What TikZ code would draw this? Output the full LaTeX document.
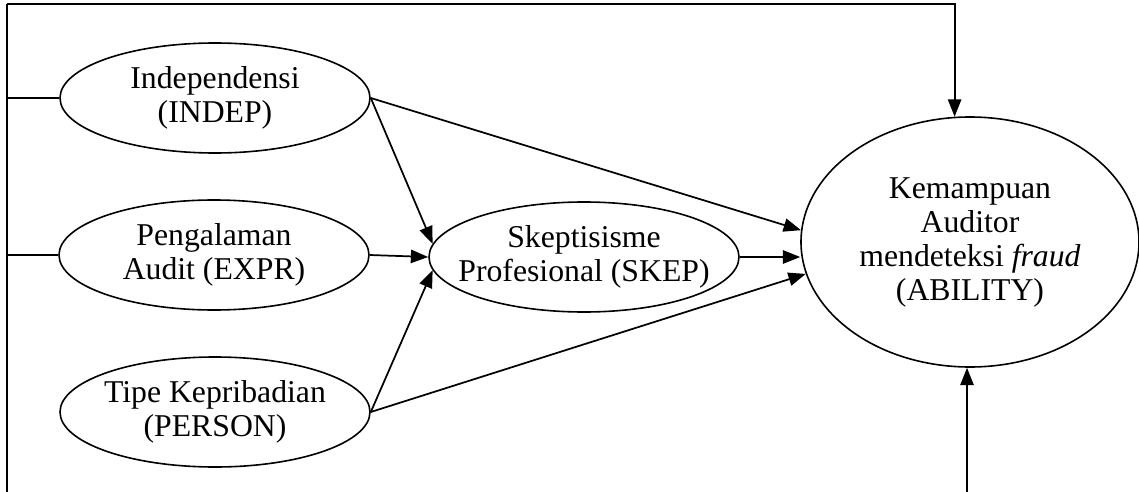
\documentclass[tikz,border=0pt]{standalone}
\usepackage{fontspec}
\setmainfont{Liberation Serif}
\usetikzlibrary{shapes.geometric,arrows.meta}
\tikzset{
  varbox/.style={draw, ellipse, line width=1.2pt, inner sep=-12pt, align=center,
    minimum width=232.5pt, minimum height=82.5pt,
    font=\fontsize{23.8pt}{25.5pt}\selectfont},
  link/.style={line width=1.3pt, -{Triangle[length=13pt,width=10pt]}},
  frame/.style={line width=1.3pt}
}
\begin{document}
\begin{tikzpicture}[x=0.75pt,y=0.75pt,yscale=-1,xscale=1]
    \useasboundingbox (0,0) rectangle (1139,492);

    %Shape: Ellipse [indep]
    \node [varbox] (indep) at (215,98) {Independensi\\(INDEP)};
    %Shape: Ellipse [expr]
    \node [varbox] (expr) at (214,255) {Pengalaman\\Audit (EXPR)};
    %Shape: Ellipse [person]
    \node [varbox] (person) at (215,412) {Tipe Kepribadian\\(PERSON)};
    %Shape: Ellipse [skep]
    \node [varbox] (skep) at (584,257) {Skeptisisme\\Profesional (SKEP)};
    %Shape: Ellipse [ability]
    \node [varbox, minimum width=253.5pt, minimum height=187.5pt] (ability) at (970,242)
      {Kemampuan\\Auditor\\mendeteksi \textit{fraud}\\(ABILITY)};

    %Frame corners
    \coordinate (corner) at (7,4);
    \coordinate (leftend) at (7,492);
    \coordinate (bottomin) at (967,492);

    %Straight Lines [frame]
    \draw [frame] (corner) -- (leftend) ;
    \draw [frame] (indep.west -| corner) -- (indep.west) ;
    \draw [frame] (expr.west -| corner) -- (expr.west) ;
    \draw [link] (corner) -| (ability.97) ;
    \draw [link] (bottomin) -- (bottomin |- ability.south) ;

    %Straight Lines [to skep]
    \draw [link] (indep.east) -- (skep.175) ;
    \draw [link] (expr.east) -- (skep.west) ;
    \draw [link] (person.east) -- (skep.185) ;

    %Straight Lines [to ability]
    \draw [link] (indep.east) -- (ability.176) ;
    \draw [link] (skep.east) -- (ability.west |- skep.east) ;
    \draw [link] (person.east) -- (ability.191) ;

\end{tikzpicture}
\end{document}
